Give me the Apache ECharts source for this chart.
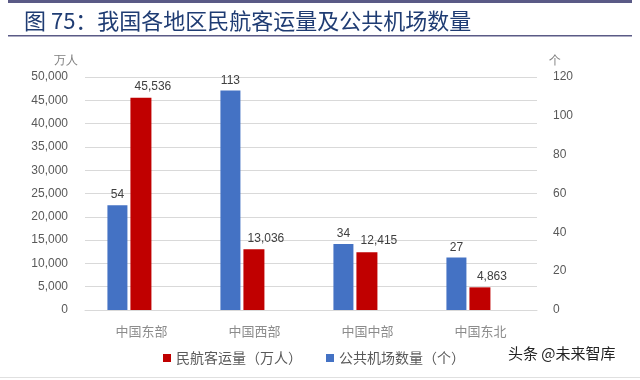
<!DOCTYPE html>
<html><head><meta charset="utf-8">
<script src="https://cdn.jsdelivr.net/npm/echarts@6/dist/echarts.min.js"></script>
<style>html,body{margin:0;padding:0;background:#fff}#c{width:640px;height:380px}</style>
</head><body><div id="c"></div>
<script>
const categories = ['中国东部', '中国西部', '中国中部', '中国东北'];
const airports = [54, 113, 34, 27];
const passengers = [45536, 13036, 12415, 4863];
const leftTicks = [0, 50000, 5000];
const rightTicks = [0, 120, 20];
const nameAirports = '公共机场数量（个）';
const namePassengers = '民航客运量（万人）';

const chart = echarts.init(document.getElementById('c'));
const fmt = v => v.toLocaleString('en-US');
const lbl = {show: true, position: 'top', color: '#404040', fontSize: 12, fontFamily: 'Liberation Sans, Arial', distance: 4};
chart.setOption({
  animation: false,
  title: {text: '图 75：我国各地区民航客运量及公共机场数量', left: 19, top: 5,
    textStyle: {color: '#1f3c73', fontSize: 22, fontWeight: 'normal', fontFamily: 'Noto Sans CJK SC'}},
  graphic: [
    {type: 'rect', shape: {x: 8, y: 0, width: 624, height: 3}, style: {fill: '#5a5a86'}},
    {type: 'rect', shape: {x: 8, y: 35, width: 624, height: 1.5}, style: {fill: '#5a5a86'}},
    {type: 'rect', shape: {x: 0, y: 377, width: 640, height: 1}, style: {fill: '#e0e0e0'}},
    {type: 'text', left: 508, top: 346, style: {text: '头条 @未来智库', fill: '#222', fontSize: 15, fontFamily: 'Noto Sans CJK SC'}}
  ],
  grid: {left: 85, right: 103, top: 77, bottom: 70},
  legend: {data: [namePassengers, nameAirports], left: 158, top: 346, itemWidth: 8, itemHeight: 8, itemGap: 24, icon: 'rect',
    textStyle: {color: '#595959', fontSize: 14, fontFamily: 'Noto Sans CJK SC'}},
  xAxis: {type: 'category', data: categories, axisTick: {show: false},
    axisLine: {lineStyle: {color: '#d9d9d9'}},
    axisLabel: {color: '#8c8c8c', fontSize: 13, margin: 15, fontFamily: 'Noto Sans CJK SC'}},
  yAxis: [
    {type: 'value', min: leftTicks[0], max: leftTicks[1], interval: leftTicks[2], name: '万人',
      nameTextStyle: {color: '#7f7f7f', fontSize: 12, align: 'right', padding: [0, 7, 0, 0]}, nameGap: 10,
      axisLabel: {color: '#595959', fontSize: 12, formatter: v => fmt(v), margin: 17, fontFamily: 'Liberation Sans, Arial'},
      splitLine: {lineStyle: {color: '#d9d9d9'}}},
    {type: 'value', min: rightTicks[0], max: rightTicks[1], interval: rightTicks[2], name: '个',
      nameTextStyle: {color: '#7f7f7f', fontSize: 12, align: 'left', padding: [0, 0, 0, 12]}, nameGap: 10,
      axisLabel: {color: '#595959', fontSize: 12, margin: 16, fontFamily: 'Liberation Sans, Arial'},
      splitLine: {show: false}}
  ],
  series: [
    {name: nameAirports, type: 'bar', yAxisIndex: 1, data: airports, barWidth: 20, barGap: '15%',
      itemStyle: {color: '#4472c4'}, label: lbl},
    {name: namePassengers, type: 'bar', yAxisIndex: 0, data: passengers, barWidth: 21,
      itemStyle: {color: '#c00000'}, label: Object.assign({}, lbl, {formatter: p => fmt(p.value), offset: [12, -1]})},
    {name: 'spacer', type: 'bar', yAxisIndex: 0, data: [], barWidth: 21}
  ]
});
</script></body></html>
